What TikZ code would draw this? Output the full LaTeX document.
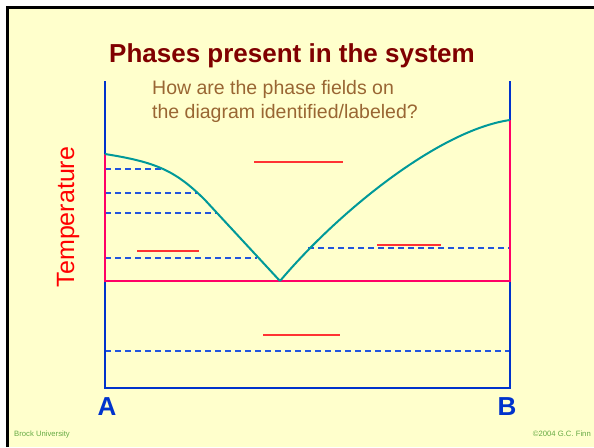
\documentclass[tikz,border=0pt]{standalone}
\usepackage{fontspec}
\setmainfont{Liberation Sans}
\definecolor{slidebg}{HTML}{FFFFCC}
\definecolor{titlered}{HTML}{800000}
\definecolor{subbrown}{HTML}{996633}
\definecolor{axisblue}{HTML}{0033CC}
\definecolor{phasepink}{HTML}{FF0066}
\definecolor{liqteal}{HTML}{009999}
\definecolor{blankred}{HTML}{FF3333}
\definecolor{tieblue}{HTML}{2255DD}
\definecolor{footgreen}{HTML}{66AA44}
\tikzset{
  axisline/.style={axisblue, line width=2pt},
  phaseline/.style={phasepink, line width=2.4pt},
  liquidus/.style={liqteal, line width=2pt},
  tieline/.style={tieblue, line width=1.1pt, dash pattern=on 6pt off 4pt},
  blank/.style={blankred, line width=1.2pt},
}
\begin{document}
\begin{tikzpicture}[x=1pt, y=-1pt]
  \useasboundingbox (0,0) rectangle (594,447);
  % Slide
  \fill[white] (0,0) rectangle (594,447);
  \fill[slidebg] (7,7) rectangle (594,447);
  \draw[line width=3pt] (7,447) -- (7,7) -- (594,7);

  % Titles
  \node[titlered, anchor=base, font=\fontsize{26}{30}\selectfont\bfseries] (title) at (292,62) {Phases present in the system};
  \node[subbrown, anchor=north west, align=left, inner sep=0pt,
        font=\fontsize{19.5}{24}\selectfont] (question) at (152,80)
        {How are the phase fields on\\the diagram identified/labeled?};

  % Tie lines
  \draw[tieline] (105,169) -- (162,169);
  \draw[tieline] (105,193) -- (197,193);
  \draw[tieline] (105,213) -- (217,213);
  \draw[tieline] (105,258) -- (257,258);
  \draw[tieline] (308,248) -- (510,248);
  \draw[tieline] (105,351) -- (510,351);

  % Axes
  \draw[axisline] (105,81) -- (105,388) -- (510,388) -- (510,81);

  % Eutectic and melting points
  \draw[phaseline] (105,154) -- (105,281) -- (510,281) -- (510,120);

  % Liquidus
  \draw[liquidus] (105,154) .. controls (155,162) and (175,170) .. (205,200) -- (280,281);
  \draw[liquidus] (280,281) .. controls (340,210) and (440,130) .. (510,120);

  % Blanks
  \draw[blank] (254,162) -- (343,162);
  \draw[blank] (137,251) -- (199,251);
  \draw[blank] (377,245) -- (441,245);
  \draw[blank] (263,335) -- (340,335);

  % Labels
  \node[red, rotate=90, font=\fontsize{25}{28}\selectfont] (temp) at (68,217) {Temperature};
  \node[axisblue, anchor=base, font=\fontsize{26}{30}\selectfont\bfseries] (compA) at (107,415) {A};
  \node[axisblue, anchor=base, font=\fontsize{26}{30}\selectfont\bfseries] (compB) at (507,415) {B};
  \node[footgreen, anchor=base west, inner sep=0pt, font=\fontsize{7.7}{9}\selectfont] (uni) at (14,436) {Brock University};
  \node[footgreen, anchor=base east, inner sep=0pt, font=\fontsize{7.7}{9}\selectfont] (copy) at (591,436) {©2004 G.C. Finn};
\end{tikzpicture}
\end{document}
